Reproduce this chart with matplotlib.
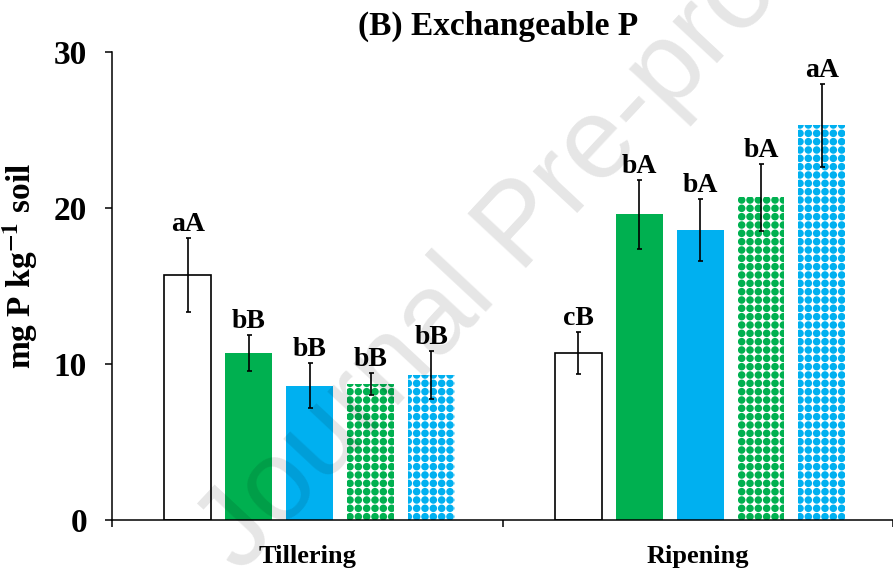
import numpy as np
import matplotlib
matplotlib.use("Agg")
import matplotlib.pyplot as plt
import matplotlib.hatch as mhatch
from matplotlib.path import Path

# Exchangeable P (mg P kg-1 soil), five treatments at two growth stages
stages = ["Tillering", "Ripening"]
tillering_mean = [15.7, 10.7, 8.6, 8.7, 9.3]
tillering_err = [2.35, 1.15, 1.45, 0.7, 1.55]
tillering_letters = ["aA", "bB", "bB", "bB", "bB"]
ripening_mean = [10.7, 19.6, 18.6, 20.7, 25.3]
ripening_err = [1.35, 2.2, 2.0, 2.15, 2.65]
ripening_letters = ["cB", "bA", "bA", "bA", "aA"]

yticks = [0, 10, 20, 30]

GREEN = "#00B050"
BLUE = "#00B0F0"


# dotted fill: round dots on an aligned square grid, picked with the "*" hatch
class SquareDots(mhatch.HatchPatternBase):
    def __init__(self, hatch, density):
        self.num_rows = hatch.count("*") * density
        circle = Path.unit_circle()
        self.shape_vertices = circle.vertices
        self.shape_codes = circle.codes
        if self.num_rows:
            self.num_vertices = (self.num_rows + 1) ** 2 * len(circle.vertices)
        else:
            self.num_vertices = 0

    def set_vertices_and_codes(self, vertices, codes):
        step = 1.0 / self.num_rows
        dot = self.shape_vertices * step * 0.36
        grid = np.linspace(0, 1, self.num_rows + 1)
        parts = [dot + [gx, gy] for gy in grid for gx in grid]
        vertices[:] = np.concatenate(parts)
        codes[:] = np.tile(self.shape_codes, len(parts))


mhatch._hatch_types = [SquareDots if t is mhatch.Stars else t
                       for t in mhatch._hatch_types]

plt.rcParams["font.family"] = "Liberation Serif"
plt.rcParams["font.weight"] = "bold"
plt.rcParams["mathtext.fontset"] = "stix"
plt.rcParams["hatch.linewidth"] = 1.1

styles = [
    dict(facecolor="white", edgecolor="black", linewidth=1.2),
    dict(facecolor=GREEN, edgecolor=GREEN, linewidth=0),
    dict(facecolor=BLUE, edgecolor=BLUE, linewidth=0),
    dict(facecolor="white", edgecolor=GREEN, linewidth=0, hatch="**"),
    dict(facecolor="white", edgecolor=BLUE, linewidth=0, hatch="**"),
]

fig = plt.figure(figsize=(8.93, 5.73), dpi=100)
ax = fig.add_axes([112 / 893, 53 / 573, 781 / 893, 468 / 573])

x = np.arange(len(stages))
width = 0.12
spacing = 0.156

means = np.array([tillering_mean, ripening_mean]).T
errs = np.array([tillering_err, ripening_err]).T
letters = np.array([tillering_letters, ripening_letters]).T

for i in range(len(styles)):
    pos = x + (i - 2) * spacing + 0.006
    ax.bar(pos, means[i], width=width, zorder=2, **styles[i])
    ax.errorbar(pos, means[i], yerr=errs[i], fmt="none", ecolor="black",
                elinewidth=1.2, capsize=1.8, capthick=1.2, zorder=3)
    for px, m, e, lab in zip(pos, means[i], errs[i], letters[i]):
        ax.annotate(lab, (px, m + e), xytext=(0, 5),
                    textcoords="offset points", ha="center", va="baseline",
                    fontsize=20, fontweight="bold")

ax.set_ylim(0, 30)
ax.set_xlim(-0.5, -0.5 + 781 / 393)
ax.set_yticks(yticks)

# group boundaries as tick marks, stage names centred under each group
ax.set_xticks([-0.5, 0.5, 1.5])
ax.set_xticklabels([])
ax.set_xticks(x, minor=True)
ax.set_xticklabels(stages, minor=True, fontsize=19, fontweight="bold")
ax.tick_params(axis="x", which="major", direction="out", length=5, width=1.1)
ax.tick_params(axis="x", which="minor", length=0, pad=18)
ax.tick_params(axis="y", direction="out", length=5, width=1.1,
               labelsize=24, pad=13)

ax.set_ylabel(r"mg P kg$^{\mathbf{-1}}$ soil", fontsize=24,
              fontweight="bold")
ax.yaxis.set_label_coords(-0.092, 0.543)

for side in ["top", "right"]:
    ax.spines[side].set_visible(False)
for side in ["left", "bottom"]:
    ax.spines[side].set_linewidth(1.1)

fig.text(0.558, 1 - 26 / 573, "(B) Exchangeable P", ha="center",
         va="center", fontsize=24, fontweight="bold")

fig.text(0.585, 0.6, "Journal Pre-proof", rotation=47,
         rotation_mode="anchor", ha="center", va="center", fontsize=83,
         family="Liberation Sans", fontweight="normal", color="black",
         alpha=0.1, zorder=10)

fig.savefig("out.png", dpi=100)
